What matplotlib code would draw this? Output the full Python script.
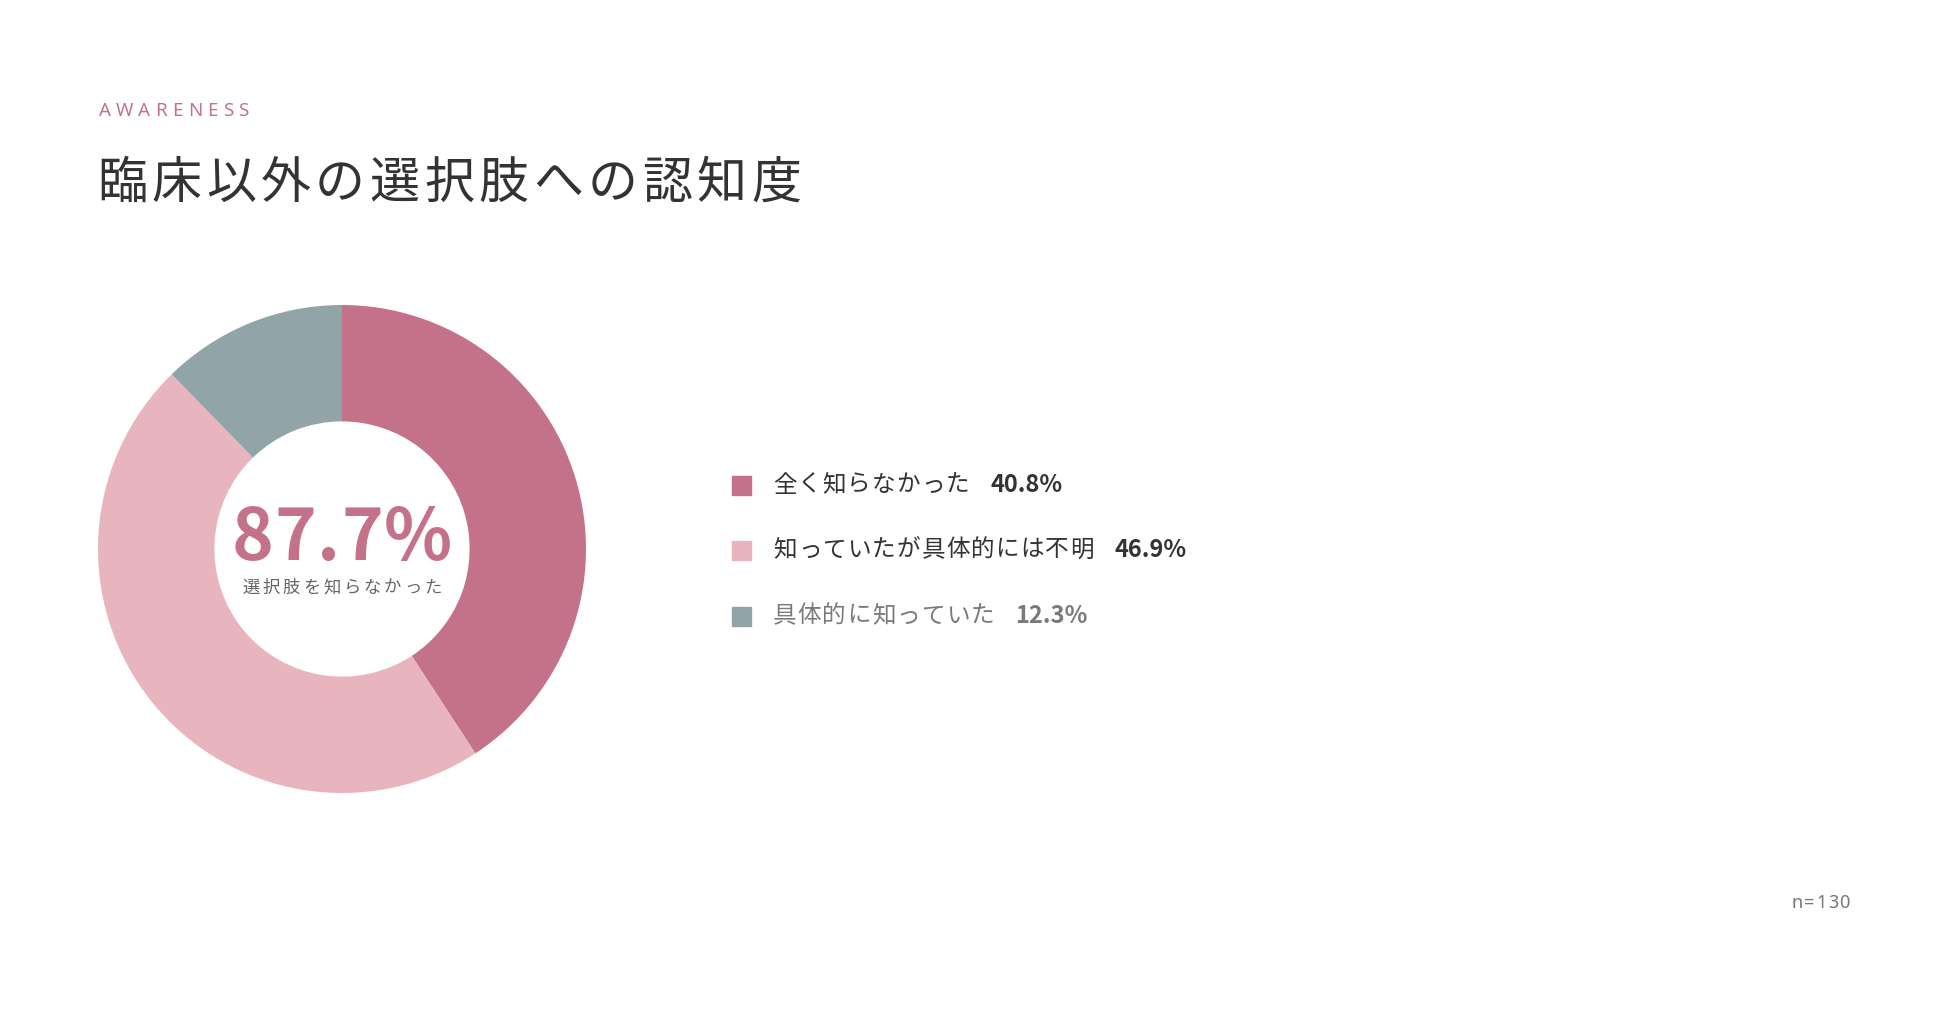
import matplotlib
matplotlib.use("Agg")
import matplotlib.pyplot as plt

plt.rcParams['font.family'] = ['Noto Sans CJK JP', 'DejaVu Sans']

# data
labels = ['全く知らなかった', '知っていたが具体的には不明', '具体的に知っていた']
shares = [40.8, 46.9, 12.3]
colors = ['#C4728A', '#E8B5BE', '#91A4A8']
label_colors = ['#333333', '#333333', '#7a7a7a']
center_value = '87.7%'
center_caption = '選択肢を知らなかった'
sample_note = 'n=130'
kicker = 'AWARENESS'
title = '臨床以外の選択肢への認知度'

W, H = 1950, 1021
fig = plt.figure(figsize=(W / 100, H / 100), dpi=100)
fig.patch.set_facecolor('white')
fig.canvas.draw()
renderer = fig.canvas.get_renderer()


def fx(px):
    return px / W


def fy(py):
    return 1 - py / H


def ink_width(s, **kw):
    t = fig.text(0, 0, s, **kw)
    w = t.get_window_extent(renderer).width
    t.remove()
    return w


def tracked(x, y, s, track, align='left', **kw):
    # draw text char by char with extra letter spacing, returns right edge
    starts = []
    for i, ch in enumerate(s):
        full = ink_width(s[:i + 1], **kw)
        own = ink_width(ch, **kw)
        starts.append(full - own + i * track)
    total = ink_width(s, **kw) + (len(s) - 1) * track
    if align == 'center':
        x = x - total / 2
    elif align == 'right':
        x = x - total
    for ch, sx in zip(s, starts):
        fig.text(fx(x + sx), fy(y), ch, ha='left', va='center', **kw)
    return x + total


# donut
cx, cy, r = 342, 549, 244
ax = fig.add_axes([fx(cx - r), fy(cy + r), 2 * r / W, 2 * r / H])
ax.pie(shares, colors=colors, startangle=90, counterclock=False, radius=1,
       wedgeprops=dict(width=0.477, edgecolor='none'))
ax.set_xlim(-1, 1)
ax.set_ylim(-1, 1)
ax.set_aspect('equal')
ax.axis('off')

tracked(cx, 539, center_value, 1.0, align='center', fontsize=51,
        fontweight='bold', color='#C4728A')
tracked(cx, 588, center_caption, 2.8, align='center', fontsize=12.5,
        color='#666666')

# header
tracked(99, 111, kicker, 5.0, fontsize=13.5, color='#C4728A',
        family=['Noto Sans', 'DejaVu Sans'])
tracked(97, 184, title, 4.5, fontsize=36, color='#333333')

# legend
rows_y = [485, 550, 616]
for lab, val, col, tcol, y in zip(labels, shares, colors, label_colors, rows_y):
    fig.patches.append(plt.Rectangle((fx(732), fy(y + 9.5)), 19 / W, 19 / H,
                                     transform=fig.transFigure, color=col))
    end = tracked(773, y, lab, 1.1, fontsize=17, color=tcol)
    fig.text(fx(end + 21), fy(y), f'{val:.1f}%', ha='left', va='center',
             fontsize=17, fontweight='bold', color=tcol)

tracked(1850, 903, sample_note, 1.5, align='right', fontsize=13,
        color='#777777', family=['Noto Sans', 'DejaVu Sans'])

fig.savefig('out.png', dpi=100, facecolor='white')
